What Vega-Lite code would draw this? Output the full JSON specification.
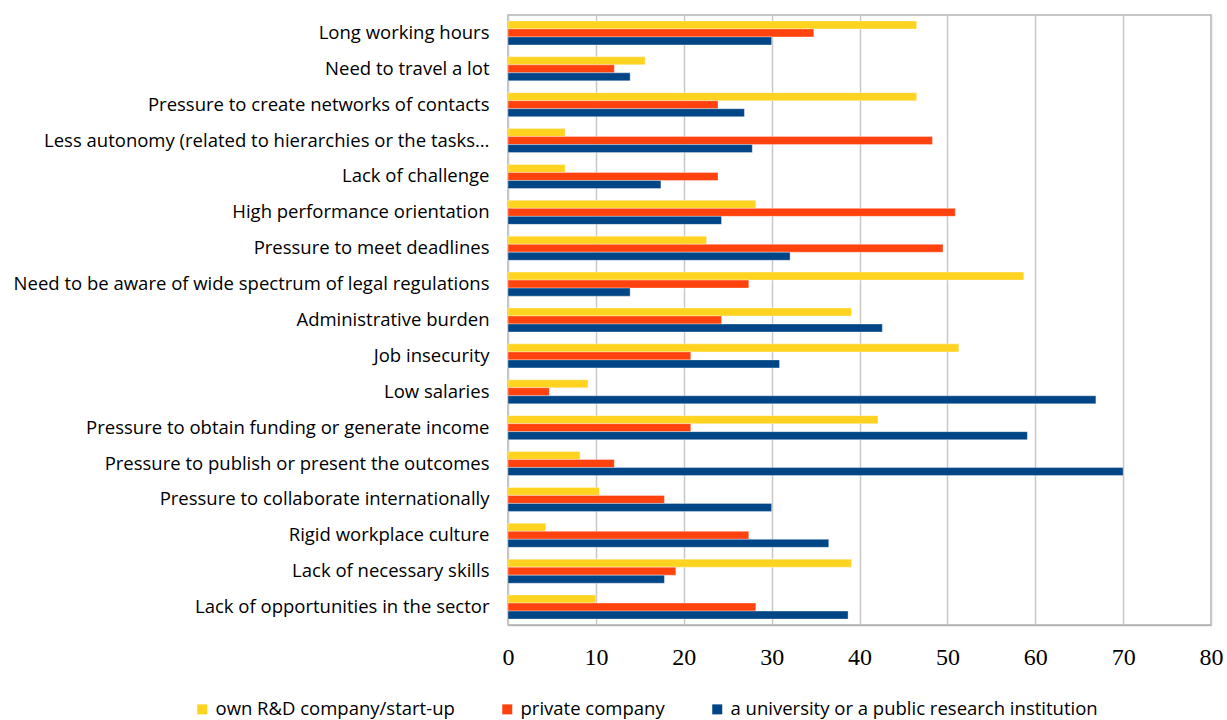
{
  "$schema": "https://vega.github.io/schema/vega-lite/v6.json",
  "autosize": {"type": "none"},
  "width": 703,
  "height": 610,
  "padding": {"left": 508, "top": 15, "right": 16, "bottom": 95},
  "background": "white",
  "config": {
    "view": {"stroke": "#b3b3b3", "strokeWidth": 1.5},
    "font": "Open Sans"
  },
  "data": {
    "values": [
      {"category": "Long working hours", "series": "own R&D company/start-up", "value": 46.5},
      {"category": "Long working hours", "series": "private company", "value": 34.8},
      {"category": "Long working hours", "series": "a university or a public research institution", "value": 30.0},
      {"category": "Need to travel a lot", "series": "own R&D company/start-up", "value": 15.6},
      {"category": "Need to travel a lot", "series": "private company", "value": 12.1},
      {"category": "Need to travel a lot", "series": "a university or a public research institution", "value": 13.9},
      {"category": "Pressure to create networks of contacts", "series": "own R&D company/start-up", "value": 46.5},
      {"category": "Pressure to create networks of contacts", "series": "private company", "value": 23.9},
      {"category": "Pressure to create networks of contacts", "series": "a university or a public research institution", "value": 26.9},
      {"category": "Less autonomy (related to hierarchies or the tasks…", "series": "own R&D company/start-up", "value": 6.5},
      {"category": "Less autonomy (related to hierarchies or the tasks…", "series": "private company", "value": 48.3},
      {"category": "Less autonomy (related to hierarchies or the tasks…", "series": "a university or a public research institution", "value": 27.8},
      {"category": "Lack of challenge", "series": "own R&D company/start-up", "value": 6.5},
      {"category": "Lack of challenge", "series": "private company", "value": 23.9},
      {"category": "Lack of challenge", "series": "a university or a public research institution", "value": 17.4},
      {"category": "High performance orientation", "series": "own R&D company/start-up", "value": 28.2},
      {"category": "High performance orientation", "series": "private company", "value": 50.9},
      {"category": "High performance orientation", "series": "a university or a public research institution", "value": 24.3},
      {"category": "Pressure to meet deadlines", "series": "own R&D company/start-up", "value": 22.6},
      {"category": "Pressure to meet deadlines", "series": "private company", "value": 49.5},
      {"category": "Pressure to meet deadlines", "series": "a university or a public research institution", "value": 32.1},
      {"category": "Need to be aware of wide spectrum of legal regulations", "series": "own R&D company/start-up", "value": 58.7},
      {"category": "Need to be aware of wide spectrum of legal regulations", "series": "private company", "value": 27.4},
      {"category": "Need to be aware of wide spectrum of legal regulations", "series": "a university or a public research institution", "value": 13.9},
      {"category": "Administrative burden", "series": "own R&D company/start-up", "value": 39.1},
      {"category": "Administrative burden", "series": "private company", "value": 24.3},
      {"category": "Administrative burden", "series": "a university or a public research institution", "value": 42.6},
      {"category": "Job insecurity", "series": "own R&D company/start-up", "value": 51.3},
      {"category": "Job insecurity", "series": "private company", "value": 20.8},
      {"category": "Job insecurity", "series": "a university or a public research institution", "value": 30.9},
      {"category": "Low salaries", "series": "own R&D company/start-up", "value": 9.1},
      {"category": "Low salaries", "series": "private company", "value": 4.7},
      {"category": "Low salaries", "series": "a university or a public research institution", "value": 66.9},
      {"category": "Pressure to obtain funding or generate income", "series": "own R&D company/start-up", "value": 42.1},
      {"category": "Pressure to obtain funding or generate income", "series": "private company", "value": 20.8},
      {"category": "Pressure to obtain funding or generate income", "series": "a university or a public research institution", "value": 59.1},
      {"category": "Pressure to publish or present the outcomes", "series": "own R&D company/start-up", "value": 8.2},
      {"category": "Pressure to publish or present the outcomes", "series": "private company", "value": 12.1},
      {"category": "Pressure to publish or present the outcomes", "series": "a university or a public research institution", "value": 70.0},
      {"category": "Pressure to collaborate internationally", "series": "own R&D company/start-up", "value": 10.4},
      {"category": "Pressure to collaborate internationally", "series": "private company", "value": 17.8},
      {"category": "Pressure to collaborate internationally", "series": "a university or a public research institution", "value": 30.0},
      {"category": "Rigid workplace culture", "series": "own R&D company/start-up", "value": 4.3},
      {"category": "Rigid workplace culture", "series": "private company", "value": 27.4},
      {"category": "Rigid workplace culture", "series": "a university or a public research institution", "value": 36.5},
      {"category": "Lack of necessary skills", "series": "own R&D company/start-up", "value": 39.1},
      {"category": "Lack of necessary skills", "series": "private company", "value": 19.1},
      {"category": "Lack of necessary skills", "series": "a university or a public research institution", "value": 17.8},
      {"category": "Lack of opportunities in the sector", "series": "own R&D company/start-up", "value": 10.0},
      {"category": "Lack of opportunities in the sector", "series": "private company", "value": 28.2},
      {"category": "Lack of opportunities in the sector", "series": "a university or a public research institution", "value": 38.7}
    ]
  },
  "mark": {"type": "bar", "stroke": "white", "strokeOpacity": 0.35, "strokeWidth": 1},
  "encoding": {
    "y": {
      "field": "category",
      "type": "nominal",
      "sort": null,
      "scale": {"paddingInner": 0.33, "paddingOuter": 0.165},
      "axis": {
        "title": null,
        "ticks": false,
        "domain": false,
        "labelFont": "Open Sans",
        "labelFontSize": 18.5,
        "labelColor": "#000000",
        "labelPadding": 19,
        "labelLimit": 0
      }
    },
    "yOffset": {
      "field": "series",
      "type": "nominal",
      "sort": ["own R&D company/start-up", "private company", "a university or a public research institution"],
      "scale": {"paddingInner": 0, "paddingOuter": 0}
    },
    "x": {
      "field": "value",
      "type": "quantitative",
      "scale": {"domain": [0, 80], "nice": false},
      "axis": {
        "title": null,
        "values": [0, 10, 20, 30, 40, 50, 60, 70, 80],
        "ticks": false,
        "domain": true,
        "domainColor": "#b3b3b3",
        "domainWidth": 1.5,
        "grid": true,
        "gridColor": "#c8c8c8",
        "gridWidth": 1.5,
        "labelFlush": false,
        "labelFont": "Liberation Serif",
        "labelFontSize": 24,
        "labelColor": "#000000",
        "labelPadding": 20
      }
    },
    "color": {
      "field": "series",
      "type": "nominal",
      "sort": ["own R&D company/start-up", "private company", "a university or a public research institution"],
      "scale": {
        "domain": ["own R&D company/start-up", "private company", "a university or a public research institution"],
        "range": ["#ffd320", "#ff420e", "#004586"]
      },
      "legend": {
        "title": null,
        "orient": "none",
        "legendX": -315,
        "legendY": 685,
        "direction": "horizontal",
        "columns": 3,
        "columnPadding": 43,
        "symbolType": "square",
        "symbolSize": 100,
        "symbolStrokeWidth": 0,
        "symbolOffset": 0,
        "labelFont": "Open Sans",
        "labelFontSize": 18.5,
        "labelColor": "#000000",
        "labelOffset": 4,
        "labelLimit": 0
      }
    }
  }
}
